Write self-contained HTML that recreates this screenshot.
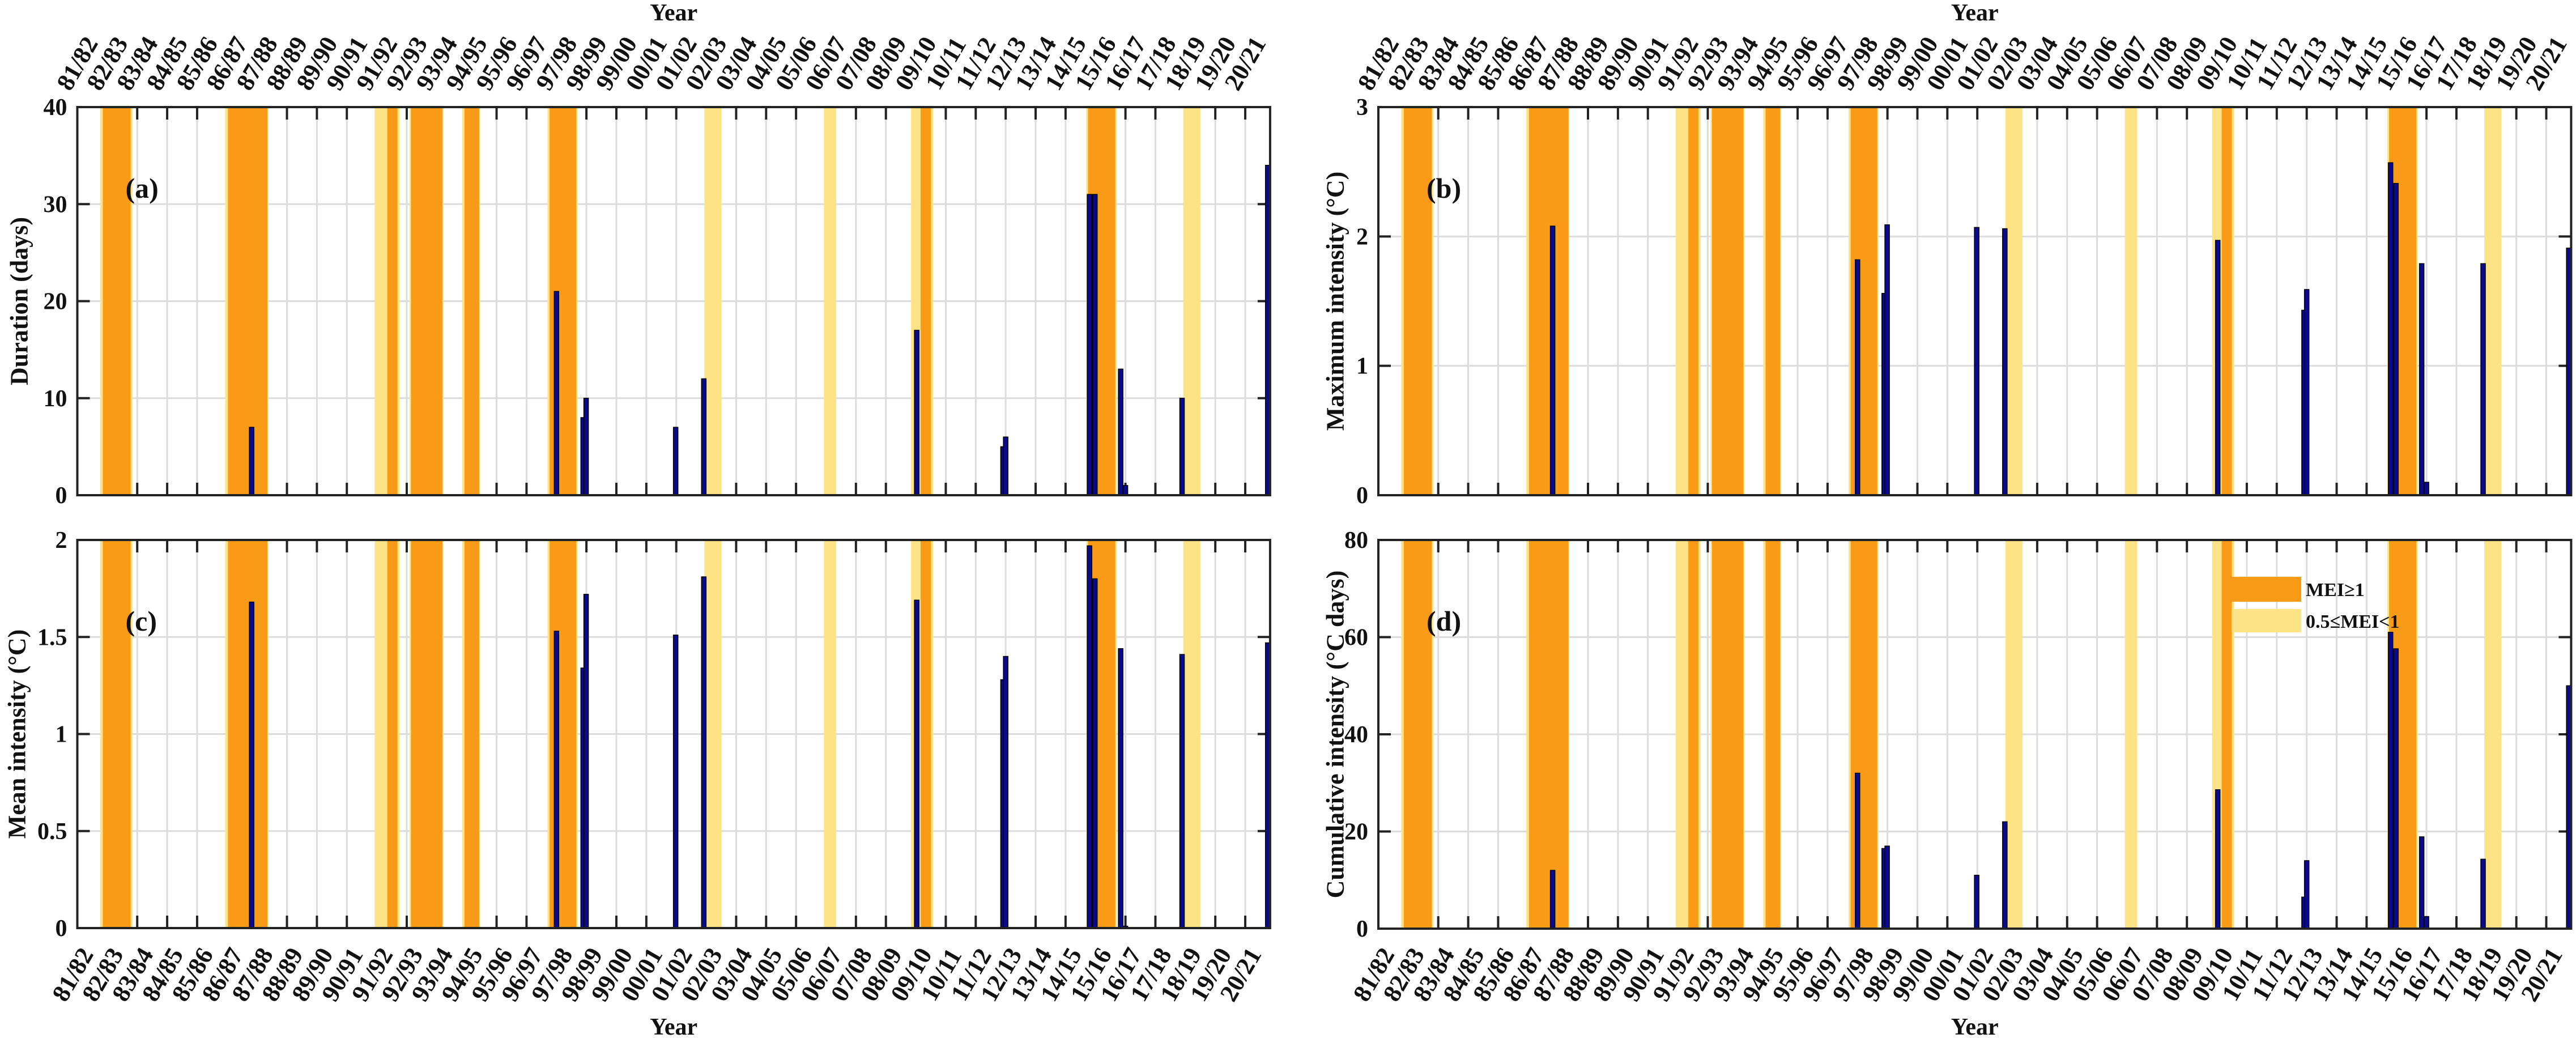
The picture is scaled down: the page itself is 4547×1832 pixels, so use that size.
<!DOCTYPE html>
<html><head><meta charset="utf-8"><style>
html,body{margin:0;padding:0;background:#fff;}
svg{display:block;font-family:"Liberation Serif","Times New Roman",serif;font-weight:bold;}
</style></head><body>
<svg id="fig" width="4547" height="1832" viewBox="0 0 4547 1832" xmlns="http://www.w3.org/2000/svg"></svg>
<script>
// ---- data ----
const seasons = ["81/82","82/83","83/84","84/85","85/86","86/87","87/88","88/89","89/90","90/91","91/92","92/93","93/94","94/95","95/96","96/97","97/98","98/99","99/00","00/01","01/02","02/03","03/04","04/05","05/06","06/07","07/08","08/09","09/10","10/11","11/12","12/13","13/14","14/15","15/16","16/17","17/18","18/19","19/20","20/21"];
// ENSO shading spans (season units), type: 1 = MEI>=1, 0 = 0.5<=MEI<1
const spanStart = [0.76,0.85,4.94,5.03,9.93,10.35,11.09,11.14,12.85,12.93,15.70,15.77,20.94,24.93,27.84,28.16,33.69,33.75,36.93];
const spanEnd   = [1.84,1.78,6.37,6.35,10.76,10.69,12.22,12.19,13.45,13.42,16.70,16.66,21.51,25.34,28.58,28.50,34.70,34.66,37.50];
const spanType  = [0,1,0,1,0,1,0,1,0,1,0,1,0,0,0,1,0,1,0];
// MHW events (season units of event time)
const eventTime = [5.82,16.0,16.89,16.99,19.98,20.92,28.03,30.91,31.0,33.8,33.98,34.84,35.0,36.89,39.75];
const duration  = [7,21,8,10,7,12,17,5,6,31,31,13,1,10,34];
const maxInt    = [2.08,1.82,1.56,2.09,2.07,2.06,1.97,1.43,1.59,2.57,2.41,1.79,0.1,1.79,1.91];
const meanInt   = [1.68,1.53,1.34,1.72,1.51,1.81,1.69,1.28,1.40,1.97,1.80,1.44,0.01,1.41,1.47];
const cumInt    = [12,32,16.5,17,11,22,28.6,6.5,14,61,57.6,18.9,2.5,14.3,50];
const ticksA = [0,10,20,30,40];
const ticksB = [0,1,2,3];
const ticksC = [0,0.5,1,1.5,2];
const ticksD = [0,20,40,60,80];

const NS="http://www.w3.org/2000/svg";
const svg=document.getElementById('fig');
function mk(tag,attrs,parent){const e=document.createElementNS(NS,tag);for(const k in attrs)e.setAttribute(k,attrs[k]);(parent||svg).appendChild(e);return e;}

const UNIT=52.86, XMAX=39.83;
const panels=[
 {id:'a',x0:136.5,y0:189,y1:874,vals:duration,ticks:ticksA,max:40,ylab:'Duration (days)',lx:34,top:true,bottom:false},
 {id:'b',x0:2433,y0:189,y1:874,vals:maxInt,ticks:ticksB,max:3,ylab:'Maximum intensity (°C)',lx:2357,top:true,bottom:false},
 {id:'c',x0:136.5,y0:953,y1:1638,vals:meanInt,ticks:ticksC,max:2,ylab:'Mean intensity (°C)',lx:30,top:false,bottom:true},
 {id:'d',x0:2433,y0:953,y1:1639,vals:cumInt,ticks:ticksD,max:80,ylab:'Cumulative intensity (°C days)',lx:2357,top:false,bottom:true}
];

panels.forEach(p=>{
  const xs=v=>p.x0+v*UNIT;
  const x1=xs(XMAX);
  const ys=v=>p.y1-(v/p.max)*(p.y1-p.y0);
  const g=mk('g',{});
  
  
  const clipId='clip'+p.id;
  const cp=mk('clipPath',{id:clipId},g);
  mk('rect',{x:p.x0,y:p.y0,width:x1-p.x0,height:p.y1-p.y0},cp);
  mk('rect',{x:p.x0,y:p.y0,width:x1-p.x0,height:p.y1-p.y0,fill:'#fff'},g);
  seasons.forEach((s,i)=>{const x=xs(i);if(x<=p.x0+1||x>=x1)return;
    const l=mk('line',{x1:x,x2:x,y1:p.y0,y2:p.y1,stroke:'#dcdcdc','stroke-width':3},g);
    
    
    mk('line',{x1:x,x2:x,y1:p.y0,y2:p.y0+22,stroke:'#222','stroke-width':4},g);
    mk('line',{x1:x,x2:x,y1:p.y1,y2:p.y1-22,stroke:'#222','stroke-width':4},g);
  });
  p.ticks.forEach(t=>{const y=ys(t);
    if(t>0&&t<p.max){const l=mk('line',{x1:p.x0,x2:x1,y1:y,y2:y,stroke:'#dcdcdc','stroke-width':3},g);
      
      }
    mk('line',{x1:p.x0,x2:p.x0+22,y1:y,y2:y,stroke:'#222','stroke-width':4},g);
    mk('line',{x1:x1,x2:x1-22,y1:y,y2:y,stroke:'#222','stroke-width':4},g);
    const tl=mk('text',{x:p.x0-18,y:y+14,'text-anchor':'end','font-size':42,fill:'#111'},g);
    tl.textContent=String(t);
    
    
  });
  const sg=mk('g',{'clip-path':'url(#'+clipId+')'},g);
  spanStart.forEach((s,i)=>{
    const r=mk('rect',{x:xs(s),y:p.y0,width:xs(spanEnd[i])-xs(s),height:p.y1-p.y0,fill:spanType[i]?'#f99b17':'#fee386'},sg);
    
    
  });
  eventTime.forEach((t,i)=>{
    const v=p.vals[i];const y=ys(v);
    const b=mk('rect',{x:xs(t)-4,y:y,width:8,height:p.y1-y,fill:'#0a0a8f',stroke:'#000','stroke-width':1.5},sg);
    
    
  });
  mk('rect',{x:p.x0,y:p.y0,width:x1-p.x0,height:p.y1-p.y0,fill:'none',stroke:'#222','stroke-width':4},g);
  const pl=mk('text',{x:p.x0+85,y:p.y0+160,'font-size':50,fill:'#111'},g);
  pl.textContent='('+p.id+')';
  
  
  const cy=(p.y0+p.y1)/2;
  const yl=mk('text',{x:p.lx,y:cy,'text-anchor':'middle','dominant-baseline':'central','font-size':44,fill:'#111',transform:'rotate(-90 '+p.lx+' '+cy+')'},g);
  yl.textContent=p.ylab;
  
  
  seasons.forEach((s,i)=>{
    let cx,cyy;
    if(p.top){cx=xs(i);cyy=112;} else {cx=xs(i)-8;cyy=1720;}
    const t=mk('text',{x:cx,y:cyy,'text-anchor':'middle','dominant-baseline':'central','font-size':44,fill:'#111',transform:'rotate(-60 '+cx+' '+cyy+')'},g);
    t.textContent=s;
    
    
  });
  const xt=mk('text',{x:(p.x0+x1)/2,y:p.top?36:1826,'text-anchor':'middle','font-size':42,fill:'#111'},g);
  xt.textContent='Year';
  
  
});

const lg=mk('g',{});


const l1=mk('rect',{x:3939,y:1018,width:123,height:44,fill:'#f99b17'},lg);


const l2=mk('rect',{x:3939,y:1075,width:123,height:41,fill:'#fee386'},lg);


const t1=mk('text',{x:4070,y:1052,'font-size':34,fill:'#111'},lg);
t1.textContent='MEI≥1';


const t2=mk('text',{x:4070,y:1108,'font-size':34,fill:'#111'},lg);
t2.textContent='0.5≤MEI<1';


</script>
</body></html>
